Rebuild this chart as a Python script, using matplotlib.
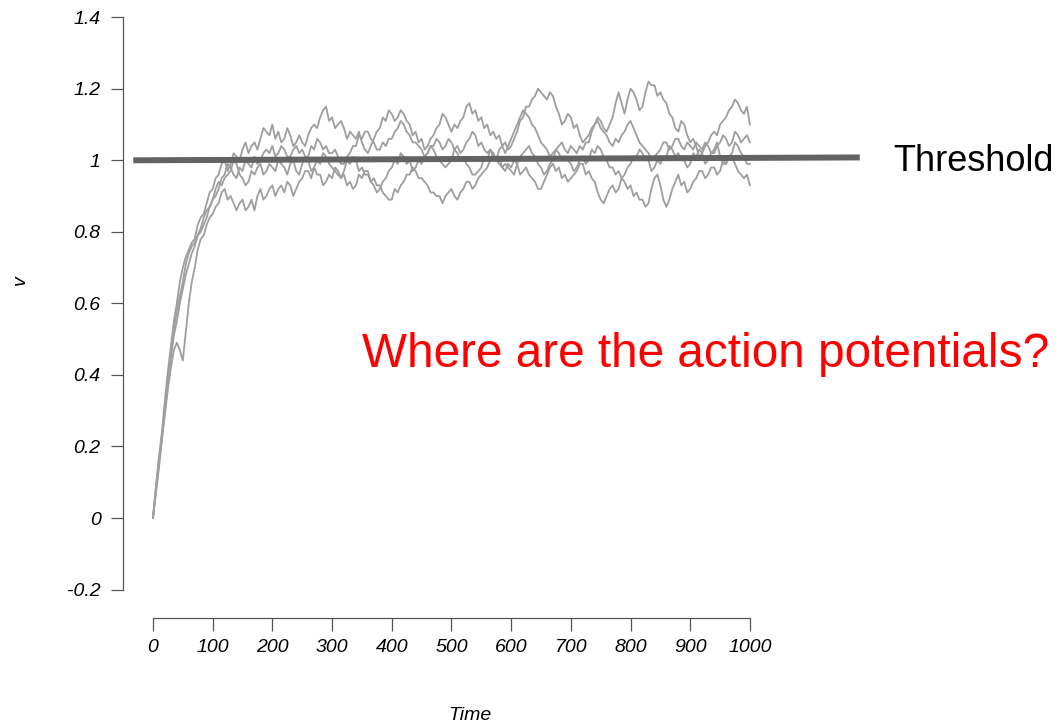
import numpy as np
import matplotlib.pyplot as plt

plt.rcParams["font.family"] = ["Liberation Sans", "DejaVu Sans"]

# sample times of the simulated membrane voltage
time = np.arange(0, 1001, 5)

# four runs of the noisy integrate-to-threshold model (one row = 100 time units)
v_run1 = [
    0.00, 0.09, 0.17, 0.24, 0.33, 0.41, 0.48, 0.55, 0.60, 0.66, 0.70, 0.73, 0.75, 0.77, 0.78, 0.82, 0.84, 0.85, 0.88, 0.91,
    0.92, 0.95, 0.96, 0.99, 1.00, 0.97, 0.99, 1.02, 1.01, 1.00, 1.03, 1.05, 1.02, 1.04, 1.05, 1.03, 1.06, 1.09, 1.08, 1.07,
    1.10, 1.06, 1.08, 1.05, 1.06, 1.09, 1.07, 1.04, 1.05, 1.07, 1.05, 1.04, 1.07, 1.09, 1.10, 1.09, 1.12, 1.14, 1.15, 1.11,
    1.12, 1.09, 1.10, 1.11, 1.09, 1.06, 1.08, 1.07, 1.06, 1.08, 1.05, 1.03, 1.02, 1.04, 1.06, 1.08, 1.09, 1.12, 1.11, 1.14,
    1.13, 1.11, 1.12, 1.14, 1.13, 1.11, 1.10, 1.07, 1.08, 1.05, 1.06, 1.03, 1.04, 1.06, 1.07, 1.09, 1.10, 1.13, 1.12, 1.10,
    1.08, 1.10, 1.09, 1.11, 1.12, 1.15, 1.16, 1.13, 1.14, 1.11, 1.12, 1.09, 1.10, 1.07, 1.08, 1.06, 1.07, 1.04, 1.05, 1.03,
    1.04, 1.06, 1.08, 1.11, 1.12, 1.15, 1.15, 1.17, 1.18, 1.20, 1.19, 1.18, 1.17, 1.19, 1.18, 1.15, 1.13, 1.10, 1.11, 1.13,
    1.12, 1.09, 1.10, 1.07, 1.05, 1.06, 1.07, 1.09, 1.10, 1.12, 1.11, 1.09, 1.08, 1.10, 1.12, 1.16, 1.19, 1.16, 1.13, 1.17,
    1.20, 1.19, 1.17, 1.14, 1.15, 1.19, 1.22, 1.21, 1.21, 1.18, 1.19, 1.17, 1.16, 1.13, 1.12, 1.09, 1.08, 1.11, 1.10, 1.07,
    1.05, 1.06, 1.04, 1.01, 1.02, 1.04, 1.05, 1.07, 1.08, 1.07, 1.10, 1.11, 1.12, 1.14, 1.15, 1.17, 1.16, 1.14, 1.13, 1.15,
    1.10]
v_run2 = [
    0.00, 0.07, 0.14, 0.22, 0.29, 0.36, 0.42, 0.47, 0.49, 0.47, 0.44, 0.52, 0.60, 0.66, 0.70, 0.75, 0.78, 0.79, 0.82, 0.84,
    0.85, 0.87, 0.88, 0.91, 0.92, 0.89, 0.90, 0.88, 0.86, 0.88, 0.89, 0.86, 0.87, 0.89, 0.86, 0.90, 0.92, 0.89, 0.90, 0.92,
    0.93, 0.90, 0.92, 0.93, 0.91, 0.94, 0.93, 0.90, 0.92, 0.94, 0.95, 0.97, 0.97, 0.95, 0.98, 0.96, 0.96, 0.93, 0.94, 0.96,
    0.95, 0.98, 0.97, 0.95, 0.96, 0.93, 0.94, 0.92, 0.93, 0.96, 0.95, 0.97, 0.97, 0.94, 0.95, 0.93, 0.93, 0.91, 0.90, 0.89,
    0.89, 0.92, 0.91, 0.93, 0.94, 0.96, 0.96, 0.98, 0.97, 0.95, 0.95, 0.94, 0.93, 0.91, 0.91, 0.90, 0.90, 0.88, 0.90, 0.91,
    0.92, 0.90, 0.89, 0.91, 0.92, 0.94, 0.94, 0.92, 0.93, 0.95, 0.96, 0.97, 0.98, 1.00, 1.02, 1.00, 0.99, 0.98, 0.97, 0.99,
    0.98, 1.00, 0.99, 0.96, 0.97, 0.98, 0.96, 0.95, 0.94, 0.92, 0.92, 0.94, 0.96, 0.98, 0.99, 0.97, 0.98, 0.95, 0.96, 0.94,
    0.95, 0.96, 0.97, 0.99, 0.99, 0.96, 0.97, 0.95, 0.94, 0.91, 0.89, 0.88, 0.90, 0.92, 0.93, 0.91, 0.92, 0.95, 0.94, 0.92,
    0.93, 0.90, 0.91, 0.89, 0.89, 0.87, 0.88, 0.92, 0.95, 0.96, 0.93, 0.89, 0.87, 0.89, 0.92, 0.94, 0.96, 0.93, 0.94, 0.91,
    0.92, 0.94, 0.95, 0.97, 0.97, 0.95, 0.96, 0.98, 0.98, 0.96, 0.97, 1.00, 0.99, 1.01, 1.01, 0.99, 0.97, 0.96, 0.95, 0.96,
    0.93]
v_run3 = [
    0.00, 0.08, 0.15, 0.23, 0.31, 0.38, 0.45, 0.51, 0.55, 0.60, 0.64, 0.68, 0.71, 0.74, 0.76, 0.79, 0.81, 0.84, 0.86, 0.87,
    0.89, 0.90, 0.92, 0.95, 0.96, 0.99, 0.98, 0.96, 0.95, 0.98, 0.97, 1.00, 0.99, 0.98, 1.01, 0.99, 1.00, 1.02, 1.03, 1.02,
    1.04, 1.01, 1.02, 1.04, 1.03, 1.01, 1.01, 1.03, 1.04, 1.02, 1.03, 1.01, 1.01, 1.04, 1.03, 1.06, 1.05, 1.03, 1.04, 1.02,
    1.02, 1.03, 1.01, 0.99, 0.99, 1.01, 1.02, 1.04, 1.04, 1.07, 1.06, 1.08, 1.08, 1.06, 1.05, 1.03, 1.03, 1.05, 1.04, 1.06,
    1.06, 1.08, 1.09, 1.11, 1.10, 1.08, 1.07, 1.05, 1.05, 1.04, 1.03, 1.01, 1.02, 1.04, 1.04, 1.06, 1.05, 1.03, 1.04, 1.06,
    1.05, 1.03, 1.04, 1.02, 1.03, 1.05, 1.06, 1.08, 1.07, 1.04, 1.05, 1.03, 1.02, 1.03, 1.01, 1.00, 1.03, 1.04, 1.02, 1.04,
    1.06, 1.08, 1.10, 1.12, 1.14, 1.13, 1.12, 1.10, 1.09, 1.07, 1.05, 1.04, 1.03, 1.01, 1.02, 1.03, 1.04, 1.05, 1.03, 1.02,
    1.04, 1.03, 1.02, 1.04, 1.03, 1.05, 1.05, 1.08, 1.10, 1.11, 1.09, 1.08, 1.07, 1.05, 1.04, 1.06, 1.05, 1.07, 1.08, 1.10,
    1.11, 1.09, 1.07, 1.05, 1.04, 1.03, 1.02, 1.00, 1.01, 1.02, 1.03, 1.05, 1.05, 1.03, 1.04, 1.06, 1.06, 1.04, 1.03, 1.05,
    1.04, 1.03, 1.05, 1.04, 1.03, 1.05, 1.04, 1.02, 1.02, 1.04, 1.05, 1.07, 1.06, 1.04, 1.05, 1.08, 1.07, 1.05, 1.06, 1.07,
    1.05]
v_run4 = [
    0.00, 0.08, 0.16, 0.22, 0.30, 0.39, 0.46, 0.53, 0.58, 0.62, 0.66, 0.71, 0.74, 0.76, 0.77, 0.79, 0.80, 0.82, 0.84, 0.87,
    0.89, 0.92, 0.94, 0.93, 0.95, 0.96, 0.97, 1.00, 0.99, 0.96, 0.95, 0.93, 0.94, 0.97, 0.96, 0.98, 0.99, 0.96, 0.97, 0.99,
    0.98, 0.97, 1.00, 0.99, 0.98, 0.96, 0.99, 1.00, 0.97, 0.96, 0.99, 1.01, 1.00, 0.97, 0.98, 1.00, 0.99, 1.02, 1.01, 0.99,
    0.98, 0.97, 0.96, 0.95, 0.97, 1.00, 0.99, 1.01, 1.00, 0.97, 0.98, 0.96, 0.96, 0.94, 0.93, 0.91, 0.92, 0.94, 0.95, 0.97,
    0.98, 1.00, 0.99, 1.02, 1.01, 0.99, 1.00, 0.97, 0.98, 1.00, 0.99, 1.01, 1.02, 1.04, 1.03, 1.01, 1.00, 0.99, 0.98, 0.99,
    1.00, 1.03, 1.02, 1.00, 1.01, 0.99, 0.98, 0.96, 0.96, 0.97, 0.98, 1.01, 1.00, 1.03, 1.02, 1.00, 1.01, 0.98, 0.99, 0.98,
    0.97, 0.96, 0.99, 1.01, 1.02, 1.03, 1.04, 1.02, 1.01, 0.99, 0.98, 0.96, 0.97, 0.99, 1.00, 1.03, 1.02, 1.00, 1.01, 1.00,
    0.99, 0.97, 0.98, 1.00, 1.01, 0.99, 1.00, 1.03, 1.02, 1.04, 1.03, 1.01, 1.00, 0.98, 0.98, 0.96, 0.97, 0.95, 0.96, 0.98,
    0.99, 1.01, 1.01, 1.03, 1.02, 1.00, 1.00, 0.97, 0.98, 1.00, 0.99, 1.01, 1.01, 1.04, 1.03, 1.01, 1.02, 1.00, 1.00, 0.98,
    0.99, 1.02, 1.01, 1.03, 1.02, 0.99, 1.00, 1.02, 1.03, 1.05, 1.01, 0.99, 0.99, 1.01, 1.02, 1.05, 1.04, 1.02, 1.01, 0.99,
    0.99]
runs = [v_run1, v_run2, v_run3, v_run4]

threshold_t = [-33, 1184]
threshold_v = [1.0, 1.008]

x_ticks = np.arange(0, 1001, 100)
y_ticks = [-0.2, 0, 0.2, 0.4, 0.6, 0.8, 1.0, 1.2, 1.4]
y_labels = ["-0.2", "0", "0.2", "0.4", "0.6", "0.8", "1", "1.2", "1.4"]

fig = plt.figure(figsize=(10.61, 7.25), dpi=100)
ax = fig.add_axes([0.1159, 0.1476, 0.6192, 0.8386])

for v in runs:
    ax.plot(time, v, color="#9e9e9e", lw=1.3)

# threshold drawn across and past the plotting region
ax.plot(threshold_t, threshold_v, color="#636363", lw=4.3,
        solid_capstyle="butt", clip_on=False)

ax.set_xlim(-50.25, 1050.3)
ax.set_ylim(-0.2794, 1.4201)

# R-style detached axes
for side in ["top", "right"]:
    ax.spines[side].set_visible(False)
ax.spines["left"].set_bounds(-0.2, 1.4)
ax.spines["bottom"].set_bounds(0, 1000)
for side in ["left", "bottom"]:
    ax.spines[side].set_color("#555555")
    ax.spines[side].set_linewidth(0.9)

ax.set_xticks(x_ticks)
ax.set_xticklabels([str(t) for t in x_ticks], fontsize=14, style="italic")
ax.set_yticks(y_ticks)
ax.set_yticklabels(y_labels, fontsize=14, style="italic")
ax.tick_params(axis="both", length=9, width=0.9, color="#555555")
ax.tick_params(axis="y", pad=7)
ax.tick_params(axis="x", pad=6)

fig.text(20 / 1061, 1 - 280 / 725, "v", rotation=90, fontsize=14,
         style="italic", ha="center", va="center")
fig.text(470 / 1061, 1 - 715 / 725, "Time", fontsize=14,
         style="italic", ha="center", va="center")

fig.text(893 / 1061, 1 - 171 / 725, "Threshold", fontsize=26,
         ha="left", va="baseline")
fig.text(362 / 1061, 1 - 367 / 725, "Where are the action potentials?",
         fontsize=34.4, color="red", ha="left", va="baseline")

fig.savefig("out.png", dpi=100)
